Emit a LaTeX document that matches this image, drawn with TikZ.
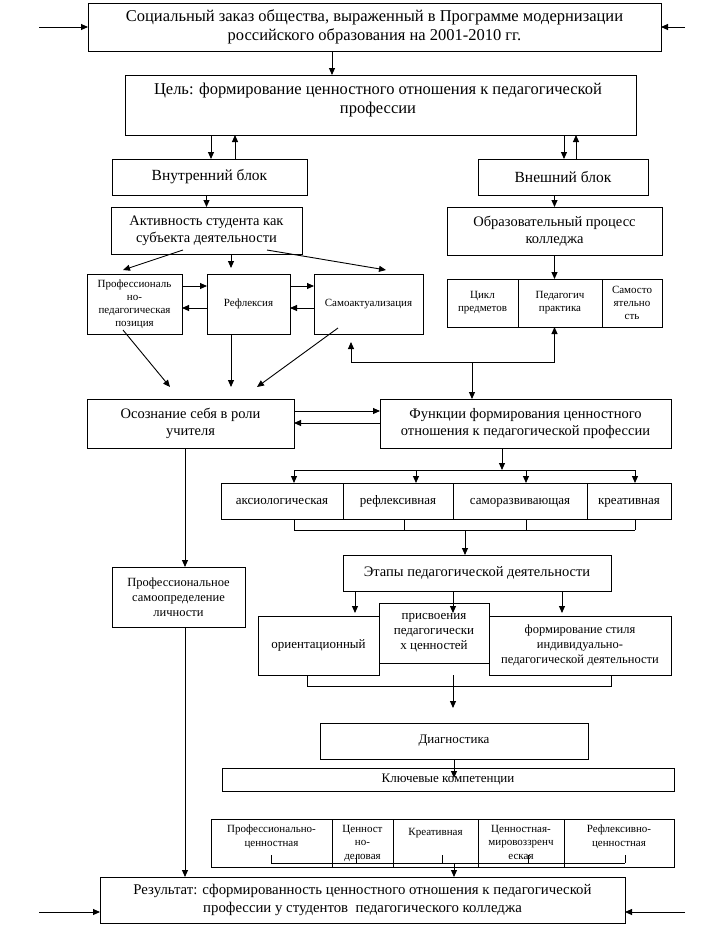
\documentclass[tikz,border=0pt]{standalone}
\usepackage{fontspec}
\setmainfont{Liberation Serif}
\usetikzlibrary{arrows.meta, positioning, calc}

\begin{document}
\begin{tikzpicture}[
    x=1pt, y=-1pt,
    box/.style={
        rectangle,
        draw=black,
        line width=0.9pt,
        inner sep=1pt,
        outer sep=0pt,
        align=center,
        font=\fontsize{14.5}{17}\selectfont
    },
    bigbox/.style={box, font=\fontsize{16.5}{19}\selectfont},
    blockbox/.style={box, font=\fontsize{15.5}{18}\selectfont},
    midbox/.style={box, font=\fontsize{13}{15}\selectfont},
    funcbox/.style={midbox, minimum height=36pt, text height=9pt, text depth=3pt},
    smallbox/.style={box, font=\fontsize{11}{13}\selectfont},
    cellbox/.style={box, minimum height=48pt},
    textonly/.style={inner sep=0pt, align=center},
    celltext/.style={textonly, font=\fontsize{11}{13.5}\selectfont},
    arrow/.style={
        -{Triangle[length=7pt, width=6pt]},
        line width=0.9pt
    },
    line/.style={line width=0.9pt}
]
    \useasboundingbox (0,0) rectangle (714,930);

    % Top Layer: social order
    \node[bigbox, minimum width=573pt, minimum height=48pt] (social) at (374.5,27) {
        Социальный заказ общества, выраженный в Программе модернизации\\
        российского образования на 2001-2010 гг.
    };

    % Goal
    \node[box, minimum width=511pt, minimum height=60pt] (goal) at (380.5,105) {};
    \node[textonly, font=\fontsize{16.5}{19}\selectfont] (goaltext) at (378,100) {
        Цель: формирование ценностного отношения к педагогической\\
        профессии
    };

    % Inner and outer blocks
    \node[blockbox, minimum width=195pt, minimum height=36pt] (inner) at (209.5,177) {Внутренний блок};
    \node[blockbox, minimum width=170pt, minimum height=36pt] (outer) at (563,177) {Внешний блок};

    \node[box, minimum width=191pt, minimum height=47pt] (activity) at (206.5,230.5) {
        Активность студента как\\ субъекта деятельности
    };
    \node[box, minimum width=215pt, minimum height=48pt] (process) at (554.5,231) {
        Образовательный процесс\\ колледжа
    };

    % Inner block components
    \node[smallbox, minimum width=95pt, minimum height=60pt] (position) at (134.5,304) {
        Профессиональ\\ но-\\ педагогическая\\ позиция
    };
    \node[smallbox, minimum width=83pt, minimum height=60pt] (reflex) at (248.5,304) {Рефлексия};
    \node[smallbox, minimum width=109pt, minimum height=60pt] (selfact) at (368.5,304) {Самоактуализация};

    % Outer block components
    \node[smallbox, minimum width=71pt, minimum height=48pt] (cycle) at (482.5,303) {Цикл\\ предметов};
    \node[smallbox, minimum width=84pt, minimum height=48pt, right=0pt of cycle] (practice) {Педагогич\\ практика};
    \node[smallbox, minimum width=60pt, minimum height=48pt, right=0pt of practice] (indep) {Самосто\\ ятельно\\ сть};

    % Awareness and functions
    \node[box, minimum width=207pt, minimum height=49pt] (aware) at (190.5,423.5) {
        Осознание себя в роли\\ учителя
    };
    \node[box, minimum width=291pt, minimum height=49pt] (funcs) at (525.5,423.5) {
        Функции формирования ценностного\\ отношения к педагогической профессии
    };

    \node[funcbox, minimum width=122pt] (axio) at (282,501) {аксиологическая};
    \node[funcbox, minimum width=110pt, right=0pt of axio] (refl) {рефлексивная};
    \node[funcbox, minimum width=134pt, right=0pt of refl] (selfdev) {саморазвивающая};
    \node[funcbox, minimum width=84pt, right=0pt of selfdev] (creat) {креативная};

    % Self-determination
    \node[box, font=\fontsize{12.5}{15}\selectfont, minimum width=133pt, minimum height=60pt] (selfdet) at (178.5,597) {
        Профессиональное\\ самоопределение\\ личности
    };

    % Stages
    \node[box, minimum width=268pt, minimum height=36pt] (stages) at (477,573) {Этапы педагогической деятельности};
    \node[midbox, minimum width=121pt, minimum height=59pt] (orient) at (318.5,645.5) {ориентационный};
    \node[midbox, minimum width=110pt, minimum height=60pt] (assim) at (434,633) {
        присвоения\\ педагогически\\ х ценностей
    };
    \node[box, font=\fontsize{12.5}{15}\selectfont, minimum width=182pt, minimum height=59pt] (style) at (580,645.5) {
        формирование стиля\\ индивидуально-\\ педагогической деятельности
    };

    % Diagnostics and competencies
    \node[midbox, minimum width=268pt, minimum height=36pt] (diag) at (454,741) {Диагностика};
    \node[midbox, minimum width=452pt, minimum height=23pt] (keycomp) at (448,779.5) {Ключевые компетенции};

    \node[cellbox, minimum width=121pt] (comp1) at (271.5,843) {};
    \node[cellbox, minimum width=61pt, right=0pt of comp1] (comp2) {};
    \node[cellbox, minimum width=85pt, right=0pt of comp2] (comp3) {};
    \node[cellbox, minimum width=86pt, right=0pt of comp3] (comp4) {};
    \node[cellbox, minimum width=110pt, right=0pt of comp4] (comp5) {};
    \node[celltext, anchor=north, below=6pt of comp1.north] (comp1text) {Профессионально-\\ ценностная};
    \node[celltext, anchor=north, below=6pt of comp2.north] (comp2text) {Ценност\\ но-\\ деловая};
    \node[celltext, anchor=north, below=9pt of comp3.north] (comp3text) {Креативная};
    \node[celltext, anchor=north, below=6pt of comp4.north] (comp4text) {Ценностная-\\ мировоззренч\\ еская};
    \node[celltext, anchor=north, below=6pt of comp5.north] (comp5text) {Рефлексивно-\\ ценностная};

    % Result
    \node[box, font=\fontsize{14.8}{17.5}\selectfont, minimum width=525pt, minimum height=46pt] (result) at (362.5,900) {
        Результат: сформированность ценностного отношения к педагогической\\
        профессии у студентов\ \ педагогического колледжа
    };

    % Free ends
    \coordinate (inL) at (39,27);
    \coordinate (inR) at (685,27);
    \coordinate (outL) at (39,912);
    \coordinate (outR) at (685,912);
    \coordinate (hub) at (472,362);

    % Arrows
    \draw[arrow] (inL) -- (social.west);
    \draw[arrow] (inR) -- (social.east);
    \coordinate (s1) at ([xshift=-42.5pt]social.south);
    \draw[arrow] (s1) -- (s1 |- goal.north);

    \coordinate (g1) at ([xshift=1.5pt]inner.north);
    \coordinate (g2) at ([xshift=25.5pt]inner.north);
    \coordinate (g3) at ([xshift=1pt]outer.north);
    \coordinate (g4) at ([xshift=13pt]outer.north);
    \draw[arrow] (g1 |- goal.south) -- (g1);
    \draw[arrow] (g2) -- (g2 |- goal.south);
    \draw[arrow] (g3 |- goal.south) -- (g3);
    \draw[arrow] (g4) -- (g4 |- goal.south);

    \draw[arrow] (activity.north |- inner.south) -- (activity.north);
    \draw[arrow] (process.north |- outer.south) -- (process.north);
    \draw[arrow] (process.south) -- (process.south |- practice.north);

    \draw[arrow] ([xshift=-23.5pt,yshift=4pt]activity.south) -- ([xshift=-11.5pt,yshift=4pt]position.north);
    \draw[arrow] ([xshift=24.5pt]activity.south) -- ([xshift=-17.5pt,yshift=6pt]reflex.north);
    \draw[arrow] ([xshift=60.5pt,yshift=4pt]activity.south) -- ([xshift=17.5pt,yshift=4pt]selfact.north);

    \draw[arrow] ([yshift=18pt]position.east) -- ([yshift=18pt]reflex.west);
    \draw[arrow] ([yshift=-4pt]reflex.west) -- ([yshift=-4pt]position.east);
    \draw[arrow] ([yshift=18pt]reflex.east) -- ([yshift=18pt]selfact.west);
    \draw[arrow] ([yshift=-4pt]selfact.west) -- ([yshift=-4pt]reflex.east);

    \draw[arrow] ([xshift=-11.5pt,yshift=4pt]position.south) -- ([xshift=-20.5pt,yshift=12pt]aware.north);
    \draw[arrow] ([xshift=-17.5pt]reflex.south) -- ([xshift=40.5pt,yshift=12pt]aware.north);
    \draw[arrow] ([xshift=-30.5pt,yshift=6pt]selfact.south) -- ([xshift=66.5pt,yshift=12pt]aware.north);

    \draw[arrow] (hub) -| ([xshift=-17.5pt,yshift=-8pt]selfact.south);
    \draw[arrow] (hub) -| (process.south |- practice.south);
    \draw[arrow] (hub) -- (hub |- funcs.north);

    \draw[arrow] ([yshift=12.5pt]aware.east) -- ([yshift=12.5pt]funcs.west);
    \draw[arrow] ([yshift=0.5pt]funcs.west) -- ([yshift=0.5pt]aware.east);

    \coordinate (lx) at ([xshift=-5.5pt]aware.south);
    \draw[arrow] (lx) -- (lx |- selfdet.north);
    \draw[arrow] (lx |- selfdet.south) -- (lx |- result.north);

    % functions bus
    \coordinate (bt) at ([xshift=-23.5pt,yshift=-22pt]funcs.south);
    \draw[arrow] (bt |- funcs.south) -- (bt);
    \foreach \n/\s in {axio/12, refl/18, selfdev/6, creat/6} {
        \coordinate (t\n) at ([xshift=\s pt]\n.north);
        \draw[arrow] (t\n |- bt) -- (t\n);
    }
    \draw[line] (taxio |- bt) -- (tcreat |- bt);

    \coordinate (fb) at ([yshift=-11pt]axio.south);
    \foreach \n/\s in {axio/12, refl/6, selfdev/6, creat/6} {
        \coordinate (b\n) at ([xshift=\s pt]\n.south);
        \draw[line] (b\n) -- (b\n |- fb);
    }
    \draw[line] (baxio |- fb) -- (bcreat |- fb);
    \coordinate (fbx) at ([xshift=-12pt]stages.north);
    \draw[arrow] (fbx |- fb) -- (fbx);

    % stages
    \foreach \s in {-122, -24, 85} {
        \draw[arrow] ([xshift=\s pt]stages.south) -- ++(0,22);
    }
    \coordinate (sb) at ([yshift=-11pt]orient.south);
    \coordinate (sbl) at ([xshift=-11.5pt]orient.south);
    \coordinate (sbr) at ([xshift=31pt]style.south);
    \draw[line] (sbl) -- (sbl |- sb) -- (sbr |- sb) -- (sbr);
    \coordinate (smx) at ([xshift=19pt]assim.south);
    \draw[arrow] (smx |- orient.south) -- ++(0,33);

    \draw[arrow] (diag.south) -- ++(0,19);

    % competencies bracket
    \foreach \n/\s in {comp1/-0.5, comp2/-6.5, comp3/6.5, comp4/7, comp5/6} {
        \coordinate (k\n) at ([xshift=\s pt, yshift=12pt]\n.south);
        \draw[line] (k\n) -- ++(0,8);
    }
    \coordinate (kb) at ([yshift=-8pt]kcomp1);
    \draw[line] (kb) -- (kb -| kcomp5);
    \coordinate (kx) at ([xshift=91.5pt]result.north);
    \draw[arrow] (kx |- kb) -- (kx);

    \draw[arrow] (outL) -- (outL -| result.west);
    \draw[arrow] (outR) -- (outR -| result.east);

\end{tikzpicture}
\end{document}
